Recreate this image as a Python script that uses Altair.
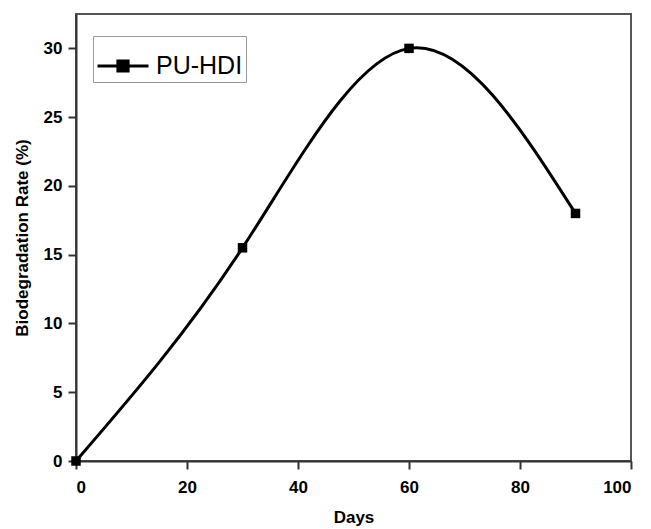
import altair as alt
import pandas as pd

days = [0, 30, 60, 90]
rate = [0, 15.5, 30, 18]
series = ["PU-HDI"] * 4

df = pd.DataFrame({"Days": days, "Rate": rate, "Series": series})

FONT = "Liberation Sans Narrow, Liberation Sans, Arial, sans-serif"
LEG_PATH = "M-1,0H-0.2M0.2,0H1M-0.2,-0.2H0.2V0.2H-0.2Z"

x = alt.X("Days:Q", scale=alt.Scale(domain=[0, 100], nice=False),
          axis=alt.Axis(values=[0, 20, 40, 60, 80, 100], title="Days"))
y = alt.Y("Rate:Q", scale=alt.Scale(domain=[0, 32.5], nice=False),
          axis=alt.Axis(values=[0, 5, 10, 15, 20, 25, 30], title="Biodegradation Rate (%)"))
color = alt.Color("Series:N", scale=alt.Scale(range=["black"]),
                  legend=alt.Legend(title=None, orient="none", legendX=17, legendY=22,
                                    symbolType=LEG_PATH, symbolSize=2600,
                                    symbolStrokeWidth=3, symbolStrokeColor="black",
                                    symbolFillColor="black",
                                    labelFontSize=25, labelFont="Liberation Sans",
                                    labelColor="black", labelOffset=6,
                                    strokeColor="#999", padding=3, fillColor="white"))

line = alt.Chart(df).mark_line(interpolate="natural", strokeWidth=3, color="black").encode(
    x=x, y=y)
pts = alt.Chart(df).mark_point(shape="square", filled=True, size=90, opacity=1).encode(
    x=x, y=y, color=color)

chart = alt.layer(line, pts).properties(
    width=555, height=447, padding={"left": 5, "top": 6, "right": 5, "bottom": 5}
).configure_view(stroke="#555", strokeWidth=2).configure_axis(
    domainColor="#333", domainWidth=2, tickColor="#333", tickWidth=2, tickSize=8,
    grid=False, labelFont=FONT, labelFontSize=17, labelFontWeight="bold",
    labelColor="black", titleFont=FONT, titleFontSize=17, titleFontWeight="bold",
    titleColor="black", labelPadding=6
).configure_axisY(titlePadding=12).configure_axisX(titlePadding=14, labelPadding=10)

chart.save("out.html", embed_options={"renderer": "svg", "actions": False})
